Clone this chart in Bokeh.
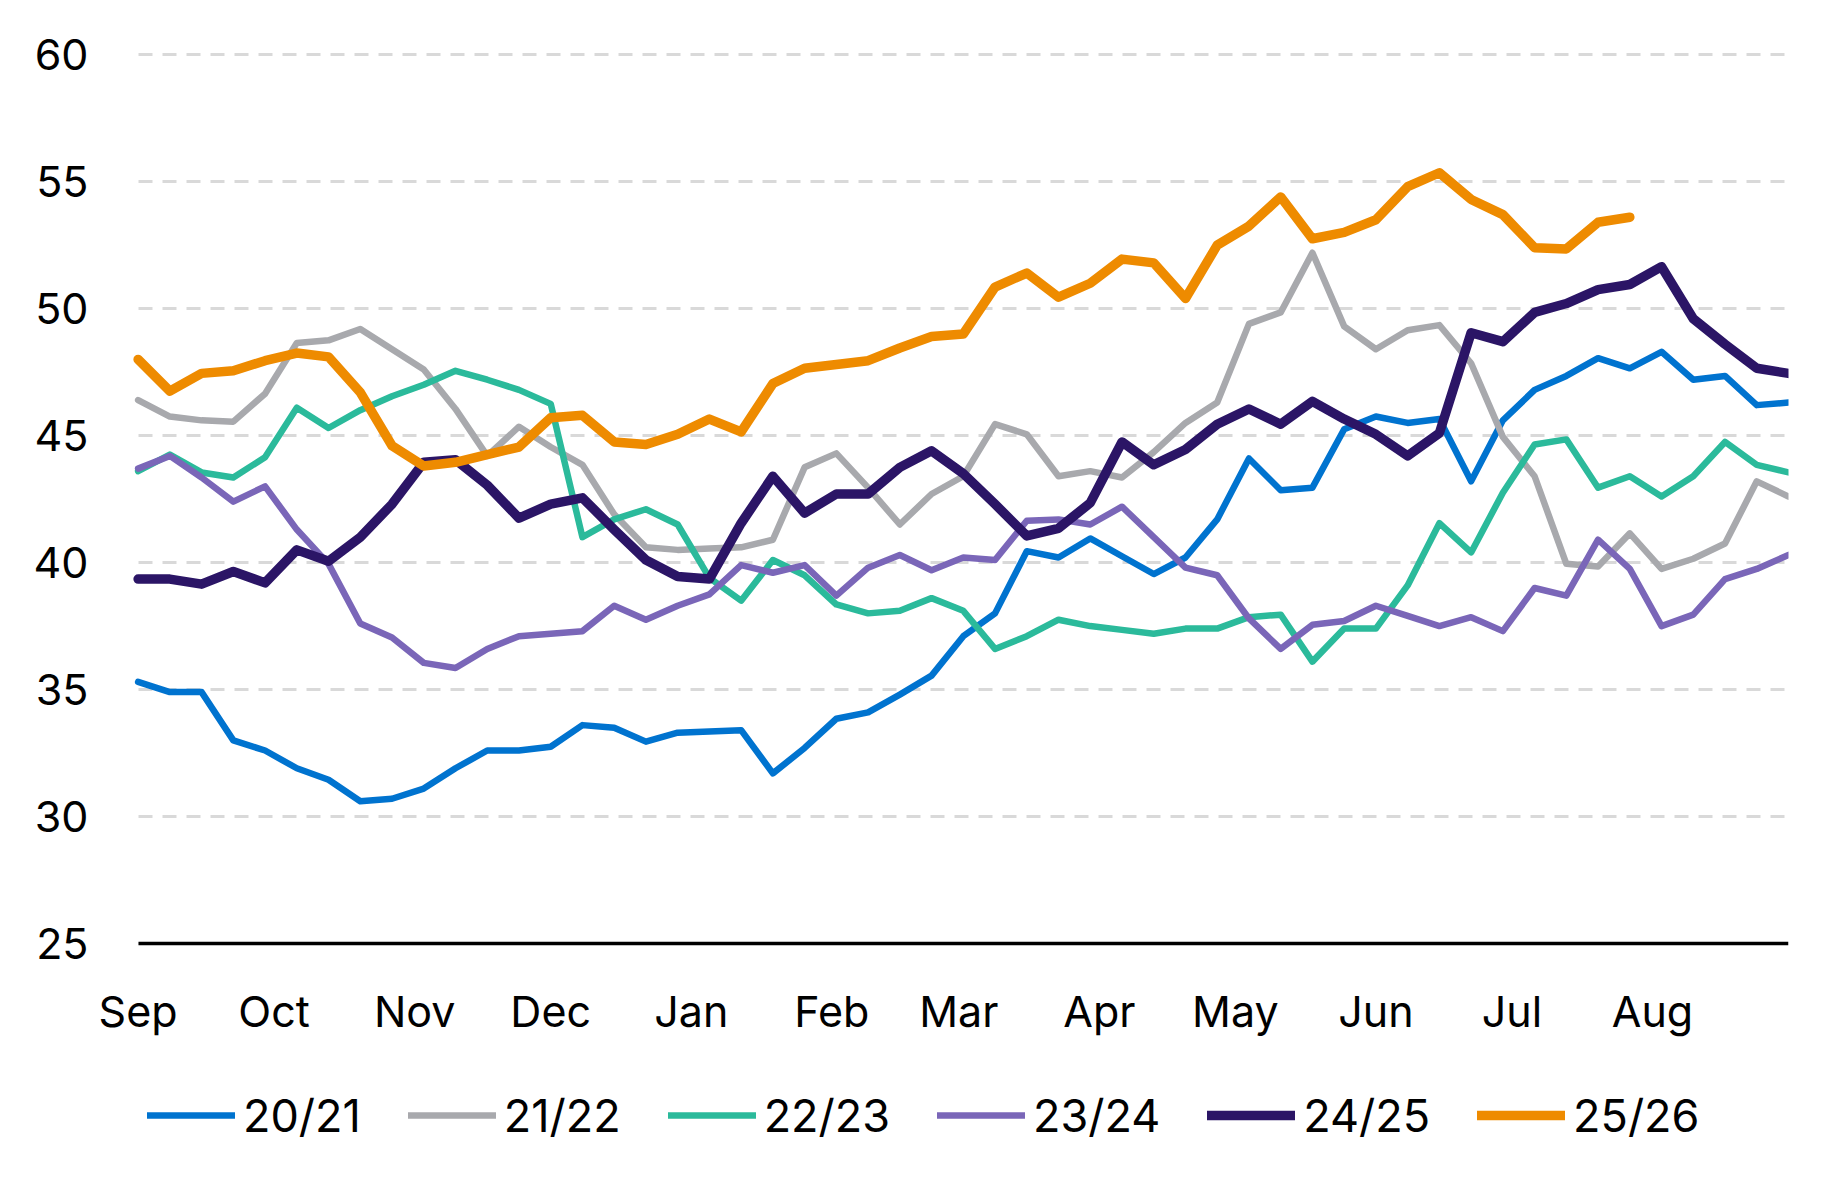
from bokeh.plotting import figure
from bokeh.models import Range1d, FixedTicker, Legend, LegendItem
from bokeh.embed import file_html
from bokeh.resources import INLINE

# ---- data (weekly values, week 0 = start of September) ----
s2021 = [35.3, 34.9, 34.9, 33.0, 32.6, 31.9, 31.45, 30.6, 30.7, 31.1, 31.9, 32.6, 32.6, 32.75,
         33.6, 33.5, 32.95, 33.3, 33.35, 33.4, 31.7, 32.7, 33.85, 34.1, 34.8, 35.55, 37.1, 38.0,
         40.45, 40.2, 40.95, 40.25, 39.55, 40.2, 41.7, 44.1, 42.85, 42.95, 45.25, 45.75, 45.5,
         45.65, 43.2, 45.6, 46.8, 47.35, 48.05, 47.65, 48.3, 47.2, 47.35, 46.2, 46.3]
s2122 = [46.4, 45.75, 45.6, 45.55, 46.65, 48.65, 48.75, 49.2, 48.4, 47.6, 46.05, 44.2, 45.35, 44.55,
         43.85, 41.9, 40.6, 40.5, 40.55, 40.6, 40.9, 43.75, 44.3, 42.95, 41.5, 42.7, 43.4, 45.45,
         45.05, 43.4, 43.6, 43.35, 44.35, 45.5, 46.3, 49.4, 49.85, 52.2, 49.3, 48.4, 49.15,
         49.35, 47.85, 44.95, 43.4, 39.95, 39.85, 41.15, 39.75, 40.15, 40.75, 43.2, 42.6]
s2223 = [43.6, 44.25, 43.55, 43.35, 44.15, 46.1, 45.3, 46.0, 46.55, 47.0, 47.55, 47.2, 46.8, 46.25,
         41.0, 41.7, 42.1, 41.5, 39.4, 38.5, 40.1, 39.5, 38.35, 38.0, 38.1, 38.6, 38.1, 36.6,
         37.1, 37.75, 37.5, 37.35, 37.2, 37.4, 37.4, 37.85, 37.95, 36.1, 37.4, 37.4, 39.1,
         41.55, 40.4, 42.75, 44.65, 44.85, 42.95, 43.4, 42.6, 43.4, 44.75, 43.85, 43.55]
s2324 = [43.7, 44.2, 43.35, 42.4, 43.0, 41.3, 39.95, 37.6, 37.05, 36.05, 35.85, 36.6, 37.1, 37.2,
         37.3, 38.3, 37.75, 38.3, 38.75, 39.9, 39.6, 39.9, 38.7, 39.8, 40.3, 39.7, 40.2, 40.1,
         41.65, 41.7, 41.5, 42.2, 41.0, 39.8, 39.5, 37.8, 36.6, 37.55, 37.7, 38.3, 37.9,
         37.5, 37.85, 37.3, 39.0, 38.7, 40.9, 39.75, 37.5, 37.95, 39.35, 39.75, 40.3]
s2425 = [39.35, 39.35, 39.15, 39.65, 39.2, 40.5, 40.05, 41.0, 42.3, 43.95, 44.05, 43.05, 41.75, 42.3,
         42.55, 41.3, 40.1, 39.45, 39.35, 41.55, 43.4, 41.95, 42.7, 42.7, 43.75, 44.4, 43.5, 42.3,
         41.05, 41.35, 42.35, 44.75, 43.85, 44.45, 45.45, 46.05, 45.45, 46.35, 45.65, 45.05, 44.2,
         45.1, 49.05, 48.7, 49.85, 50.2, 50.75, 50.95, 51.65, 49.6, 48.6, 47.65, 47.45]
s2526 = [48.0, 46.75, 47.45, 47.55, 47.95, 48.25, 48.1, 46.7, 44.6, 43.8, 43.95, 44.25, 44.55, 45.7,
         45.8, 44.75, 44.65, 45.05, 45.65, 45.15, 47.05, 47.65, 47.8, 47.95, 48.45, 48.9, 49.0, 50.85,
         51.4, 50.45, 51.0, 51.95, 51.8, 50.4, 52.5, 53.25, 54.4, 52.75, 53.0, 53.5, 54.8,
         55.35, 54.3, 53.7, 52.4, 52.35, 53.4, 53.6]

season_names = ["20/21", "21/22", "22/23", "23/24", "24/25", "25/26"]
month_labels = ["Sep", "Oct", "Nov", "Dec", "Jan", "Feb", "Mar", "Apr", "May", "Jun", "Jul", "Aug"]
month_start_days = [0, 30, 61, 91, 122, 153, 181, 212, 242, 273, 303, 334]
y_ticks = [25, 30, 35, 40, 45, 50, 55, 60]

series = [s2021, s2122, s2223, s2324, s2425, s2526]
colors = ["#0073CF", "#A8A9AD", "#2BBA9B", "#7A66B8", "#2B1566", "#EE8B00"]
widths = [6.5, 6.5, 6.5, 6.5, 9.5, 9.5]

FONT = "Inter"
N_WEEKS = len(s2021) - 1

# The frame is extended left (x < 0) and down (y < 25) so that the pinned x axis
# labels and the legend are drawn inside it without clipping.
p = figure(width=1820, height=1168,
           x_range=Range1d(-1.5, N_WEEKS), y_range=Range1d(16.535, 60.4),
           output_backend="svg", toolbar_location=None,
           min_border_left=90, min_border_right=32,
           min_border_top=44, min_border_bottom=10)
p.outline_line_color = None
p.background_fill_color = "white"
p.border_fill_color = "white"

p.xgrid.grid_line_color = None
p.ygrid.grid_line_color = "#D9D9D9"
p.ygrid.grid_line_width = 3
p.ygrid.grid_line_dash = "14 10"
p.ygrid.ticker = FixedTicker(ticks=y_ticks)
for g in p.ygrid:
    if "cross_bounds" in g.properties():
        g.cross_bounds = (0, N_WEEKS)

p.yaxis.ticker = FixedTicker(ticks=y_ticks)
p.yaxis.axis_line_color = None
p.yaxis.major_tick_line_color = None
p.yaxis.major_tick_out = 0
p.yaxis.minor_tick_line_color = None
p.yaxis.minor_tick_out = 0
p.yaxis.major_label_standoff = 2
p.yaxis.major_label_text_font = FONT
p.yaxis.major_label_text_font_size = "43px"
p.yaxis.major_label_text_color = "#000000"

xticks = [d / 7 for d in month_start_days]
p.xaxis.fixed_location = 25
p.xaxis.bounds = (0, N_WEEKS)
p.xaxis.ticker = FixedTicker(ticks=xticks)
p.xaxis.major_label_overrides = {t: m for t, m in zip(xticks, month_labels)}
p.xaxis.axis_line_color = "#000000"
p.xaxis.axis_line_width = 3.3
p.xaxis.major_tick_line_color = None
p.xaxis.major_tick_out = 0
p.xaxis.minor_tick_line_color = None
p.xaxis.minor_tick_out = 0
p.xaxis.major_label_standoff = 41
p.xaxis.major_label_text_font = FONT
p.xaxis.major_label_text_font_size = "43px"
p.xaxis.major_label_text_color = "#000000"

items = []
for name, ys, c, w in zip(season_names, series, colors, widths):
    xs = list(range(len(ys)))
    r = p.line(xs, ys, line_color=c, line_width=w, line_cap="round", line_join="round")
    items.append(LegendItem(label=name, renderers=[r]))

legend = Legend(items=items, orientation="horizontal", location=(57, 15.5),
                glyph_width=88, glyph_height=30, label_standoff=8, spacing=47,
                padding=0, margin=0, border_line_color=None, background_fill_alpha=0,
                label_text_font=FONT, label_text_font_size="45px", label_text_color="#000000")
p.add_layout(legend, "center")

open("out.html", "w").write(file_html(p, INLINE))
